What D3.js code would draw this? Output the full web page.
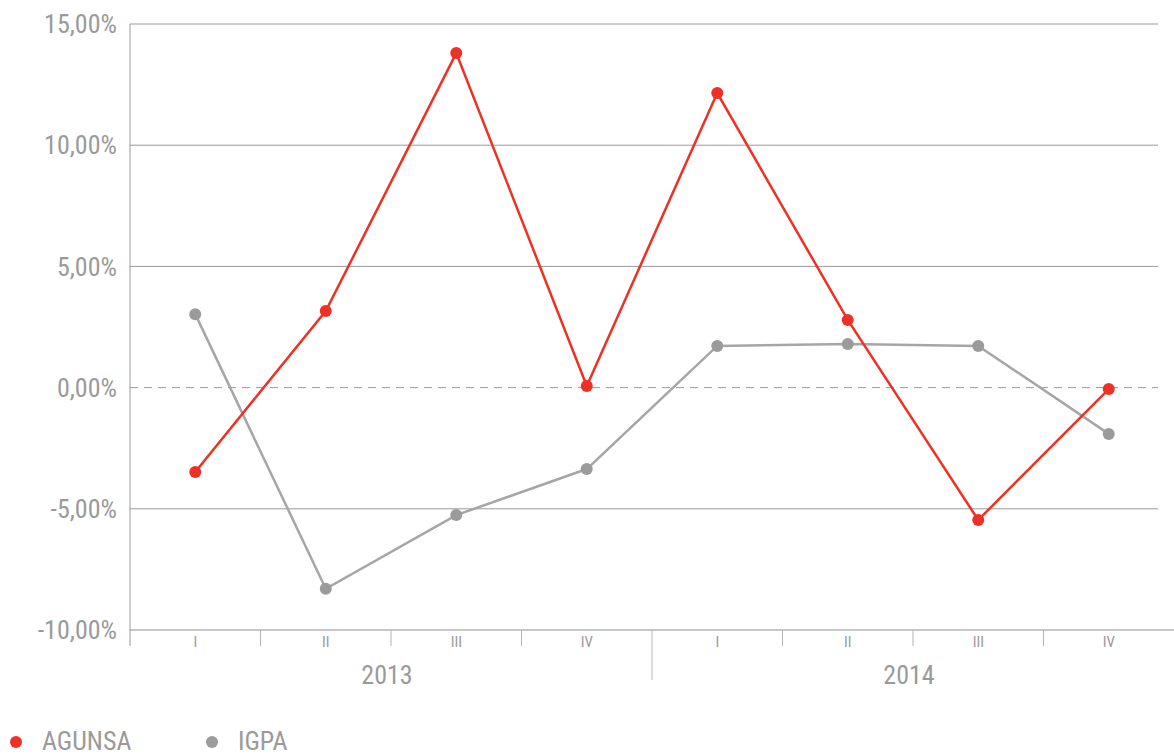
<!DOCTYPE html>
<html><head><meta charset="utf-8">
<script src="https://cdn.jsdelivr.net/npm/d3@7"></script>
<style>
body{margin:0;background:#fff;}
svg text{font-family:"Liberation Sans Narrow","Roboto Condensed","DejaVu Sans Condensed",sans-serif;fill:#9a9a9a;}
</style></head>
<body><svg id="c" width="1174" height="756"></svg>
<script>
const years = ["2013","2014"];
const quarters = ["I","II","III","IV"];
const categories = ["2013-I","2013-II","2013-III","2013-IV","2014-I","2014-II","2014-III","2014-IV"];
const agunsa = [-3.48, 3.16, 13.8, 0.07, 12.15, 2.79, -5.46, -0.06];
const igpa = [3.03, -8.3, -5.26, -3.36, 1.72, 1.8, 1.72, -1.91];
const yTicks = [-10, -5, 0, 5, 10, 15];
const seriesNames = ["AGUNSA","IGPA"];
const colors = {AGUNSA:"#ee3124", IGPA:"#a6a6a6"};
const dotColors = {AGUNSA:"#ee3124", IGPA:"#9b9b9b"};

const svg = d3.select("#c");
const x = d3.scaleBand().domain(categories).range([130,1174]);
const y = d3.scaleLinear().domain([-10,15]).range([630,24]);
const gridRight = 1158;

// gridlines
yTicks.forEach(t=>{
  if(t===-10) return;
  svg.append("line").attr("x1",130).attr("x2",gridRight).attr("y1",y(t)).attr("y2",y(t))
    .attr("stroke","#9a9a9a").attr("stroke-width",1)
    .attr("stroke-dasharray", t===0 ? "8,6" : null);
});
// y labels
const fmt = v => d3.format(".2f")(v).replace(".",",").replace("\u2212","-") + "%";
yTicks.forEach(t=>{
  svg.append("text").attr("x",117).attr("y",y(t)).attr("dy","0.35em").attr("text-anchor","end")
    .attr("font-size",26).text(fmt(t));
});
// axes lines
svg.append("line").attr("x1",130).attr("x2",130).attr("y1",24).attr("y2",646).attr("stroke","#9a9a9a");
svg.append("line").attr("x1",130).attr("x2",1174).attr("y1",630).attr("y2",630).attr("stroke","#8f8f8f").attr("stroke-width",1.2);
// separators
categories.forEach((c,i)=>{
  if(i===0) return;
  const xx = x(c);
  const isYear = i===4;
  svg.append("line").attr("x1",xx).attr("x2",xx).attr("y1",630).attr("y2",isYear?680:646)
    .attr("stroke","#b5b5b5").attr("stroke-width",1);
});
// quarter labels
categories.forEach((c,i)=>{
  svg.append("text").attr("x",x(c)+x.bandwidth()/2).attr("y",647).attr("text-anchor","middle")
    .attr("font-size",15).attr("fill","#a8a8a8").text(quarters[i%4]);
});
// year labels
years.forEach((yr,j)=>{
  const x0 = x(categories[j*4]), x1 = x(categories[j*4+3]) + x.bandwidth();
  svg.append("text").attr("x",(x0+x1)/2 - 4).attr("y",684).attr("text-anchor","middle")
    .attr("font-size",26).text(yr);
});

// lines
const line = d3.line().x((d,i)=>x(categories[i])+x.bandwidth()/2).y(d=>y(d));
[["IGPA",igpa],["AGUNSA",agunsa]].forEach(([name,vals])=>{
  svg.append("path").attr("d",line(vals)).attr("fill","none").attr("stroke",colors[name]).attr("stroke-width",2.5);
  svg.selectAll(null).data(vals).enter().append("circle")
    .attr("cx",(d,i)=>x(categories[i])+x.bandwidth()/2).attr("cy",d=>y(d)).attr("r",6)
    .attr("fill",dotColors[name]);
});

// legend
const legX = [16, 212];
seriesNames.forEach((n,i)=>{
  svg.append("circle").attr("cx",legX[i]).attr("cy",742).attr("r",6).attr("fill",dotColors[n]);
  svg.append("text").attr("x",legX[i]+26).attr("y",750).attr("font-size",26).text(n);
});
</script></body></html>
